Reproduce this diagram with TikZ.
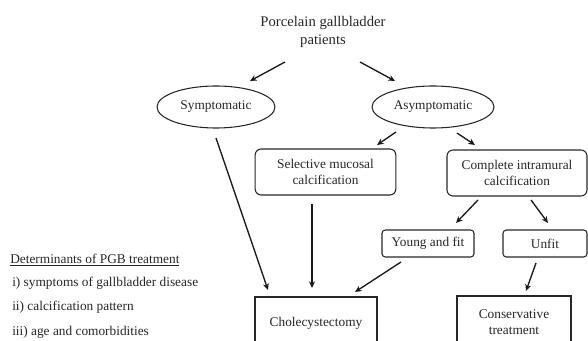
\documentclass[tikz,border=0pt]{standalone}
\usepackage{fontspec}
\setmainfont{Liberation Serif}
\usetikzlibrary{arrows.meta,calc,shapes.geometric}
\begin{document}
\begin{tikzpicture}[x=0.75pt,y=-0.75pt,
  every node/.style={font=\fontsize{10}{12}\selectfont, text=black!85},
  oval/.style={draw=black!85, line width=0.8pt, ellipse, inner sep=0pt, minimum width=88.5pt, minimum height=31.5pt},
  rbox/.style={draw=black!85, line width=0.8pt, rounded corners=4.5pt, align=center, inner sep=0pt, minimum width=105.5pt, minimum height=34.5pt},
  sbox/.style={draw=black!85, line width=0.8pt, rounded corners=2.5pt, inner sep=0pt, minimum height=20.25pt},
  qbox/.style={draw=black!85, line width=0.8pt, align=center, inner sep=0pt, minimum height=39pt},
  arr/.style={draw=black!90, line width=1pt, -{Stealth[length=5pt,width=4.5pt]}},
  lefttxt/.style={anchor=west, inner sep=0pt}
]
\clip (0,0) rectangle (588,341);
\node[align=center, font=\fontsize{11}{14}\selectfont] (title) at (323,32) {Porcelain gallbladder\\patients};
\node[oval] (symp) at (216,107) {Symptomatic};
\node[oval, minimum width=91.5pt] (asym) at (433,107) {Asymptomatic};
\node[rbox] (sel) at (325.5,172) {Selective mucosal\\calcification};
\node[rbox, minimum width=105pt] (comp) at (517,173) {Complete intramural\\calcification};
\node[sbox, minimum width=69pt] (young) at (428,243.5) {Young and fit};
\node[sbox, minimum width=63pt] (unfit) at (545,243.5) {Unfit};
\node[qbox, minimum width=91.5pt] (chole) at (316,323) {Cholecystectomy};
\node[qbox, minimum width=85.5pt] (cons) at (514,322) {Conservative\\treatment};

\node[lefttxt] (det) at (10,260) {\underline{Determinants of PGB treatment}};
\node[lefttxt] (d1) at (12,283) {i) symptoms of gallbladder disease};
\node[lefttxt] (d2) at (12,307) {ii) calcification pattern};
\node[lefttxt] (d3) at (12,332) {iii) age and comorbidities};

\draw[arr] ($(title)+(-38,30)$) -- ($(symp)+(34,-26)$);
\draw[arr] ($(title)+(37,30)$) -- ($(asym)+(-38,-26)$);
\draw[arr] ($(asym)+(-37,25)$) -- ($(sel)+(51.5,-27)$);
\draw[arr] ($(asym)+(24,26)$) -- ($(comp)+(-42,-28)$);
\draw[arr] ($(symp)+(0,31)$) -- ($(chole)+(-48,-33)$);
\draw[arr] ($(sel)+(-13.5,32)$) -- ($(chole)+(-4,-35)$);
\draw[arr] ($(comp)+(-39,27)$) -- ($(young)+(28,-20.5)$);
\draw[arr] ($(comp)+(14,27)$) -- ($(unfit)+(3,-20.5)$);
\draw[arr] ($(young)+(-27,18.5)$) -- ($(chole)+(39,-31)$);
\draw[arr] ($(unfit)+(-9,19.5)$) -- ($(cons)+(12,-31)$);
\end{tikzpicture}
\end{document}
